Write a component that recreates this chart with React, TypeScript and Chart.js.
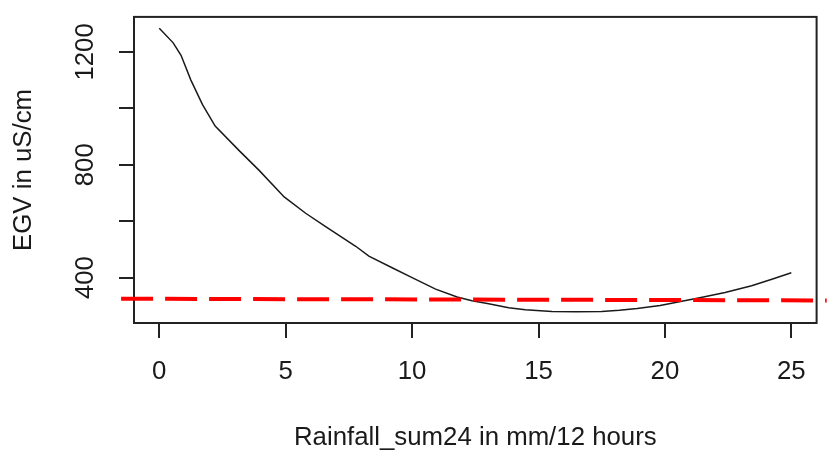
import { useEffect, useRef } from "react";
import { Chart, registerables } from "chart.js";

Chart.register(...registerables);

// Curve: EGV (uS/cm) vs Rainfall_sum24 (mm/12 hours)
const rainfall = [0, 0.55, 0.86, 1.25, 1.71, 2.21, 3.16, 3.95, 4.94, 5.79, 6.58, 7.77, 8.29, 9.21, 10.0, 10.93, 11.78, 12.37, 13.03, 13.82, 14.48, 15.53, 16.5, 17.5, 18.2, 18.9, 19.81, 20.67, 21.33, 22.38, 23.43, 24.23, 25.0];
const egv = [1284, 1232, 1188, 1100, 1013, 937, 850, 780, 686, 628, 581, 511, 476, 435, 400, 359, 331, 318, 307, 293, 286, 280, 279, 280, 284, 290, 301, 316, 328, 347, 371, 394, 417];

// Red dashed reference line (end points, extends past the plot box)
const thresholdX = [-1.51, 26.4];
const thresholdY = [325, 319];

// Axes
const xRange = [-1, 26];
const yRange = [239, 1324];
const xTicks = [0, 5, 10, 15, 20, 25];
const yTicks = [400, 600, 800, 1000, 1200];
const yLabelValues = [400, 800, 1200];

const xTitle = "Rainfall_sum24 in mm/12 hours";
const yTitle = "EGV in uS/cm";

export default function App() {
  const ref = useRef<HTMLCanvasElement>(null);

  useEffect(() => {
    if (!ref.current) return;
    const font = { family: "'Liberation Sans', Arial, sans-serif", size: 25.8, lineHeight: 1 };
    const textColor = "#1a1a1a";
    const axisColor = "#222";

    const boxPlugin = {
      id: "rbox",
      beforeDatasetsDraw(chart: any) {
        const { ctx, chartArea: a } = chart;
        ctx.save();
        ctx.strokeStyle = axisColor;
        ctx.lineWidth = 2;
        ctx.strokeRect(a.left, a.top, a.right - a.left, a.bottom - a.top);
        ctx.restore();
      },
    };

    const chart = new Chart(ref.current, {
      type: "line",
      data: {
        datasets: [
          {
            data: thresholdX.map((x, i) => ({ x, y: thresholdY[i] })),
            borderColor: "#ff0000",
            borderWidth: 4,
            borderDash: [32, 12],
            pointRadius: 0,
            clip: false as any,
            order: 0,
          },
          {
            data: rainfall.map((x, i) => ({ x, y: egv[i] })),
            borderColor: "#1a1a1a",
            borderWidth: 1.5,
            pointRadius: 0,
            tension: 0,
            order: 1,
          },
        ],
      },
      options: {
        animation: false,
        responsive: false,
        maintainAspectRatio: false,
        layout: { padding: { top: 13, right: 9, left: 0, bottom: 0 } },
        plugins: { legend: { display: false }, tooltip: { enabled: false } },
        scales: {
          x: {
            type: "linear",
            min: xRange[0],
            max: xRange[1],
            afterBuildTicks: (s: any) => {
              s.ticks = xTicks.map((v) => ({ value: v }));
            },
            afterFit: (s: any) => {
              s.height = 128;
            },
            grid: {
              drawOnChartArea: false,
              drawTicks: true,
              tickLength: 15,
              tickWidth: 2,
              lineWidth: 2,
              color: axisColor,
              tickColor: axisColor,
            },
            border: { display: false },
            ticks: { font, color: textColor, padding: 21, maxRotation: 0, autoSkip: false },
            title: { display: true, text: xTitle, font, color: textColor, padding: { top: 0, bottom: 0 } },
          },
          y: {
            type: "linear",
            min: yRange[0],
            max: yRange[1],
            afterBuildTicks: (s: any) => {
              s.ticks = yTicks.map((v) => ({ value: v }));
            },
            afterFit: (s: any) => {
              s.width = 134;
            },
            grid: {
              drawOnChartArea: false,
              drawTicks: true,
              tickLength: 15,
              tickWidth: 2,
              lineWidth: 2,
              color: axisColor,
              tickColor: axisColor,
            },
            border: { display: false },
            ticks: {
              font,
              color: textColor,
              padding: 4,
              minRotation: 90,
              maxRotation: 90,
              crossAlign: "center",
              autoSkip: false,
              callback: (v: any) => (yLabelValues.includes(Number(v)) ? String(v) : ""),
            },
            title: { display: true, text: yTitle, font, color: textColor, padding: { top: 11, bottom: 0 } },
          },
        },
      },
      plugins: [boxPlugin],
    } as any);

    return () => chart.destroy();
  }, []);

  return (
    <div style={{ position: "fixed", left: 0, top: 0, width: 827, height: 451, background: "#fff" }}>
      <canvas ref={ref} width={827} height={451} style={{ display: "block" }} />
    </div>
  );
}
